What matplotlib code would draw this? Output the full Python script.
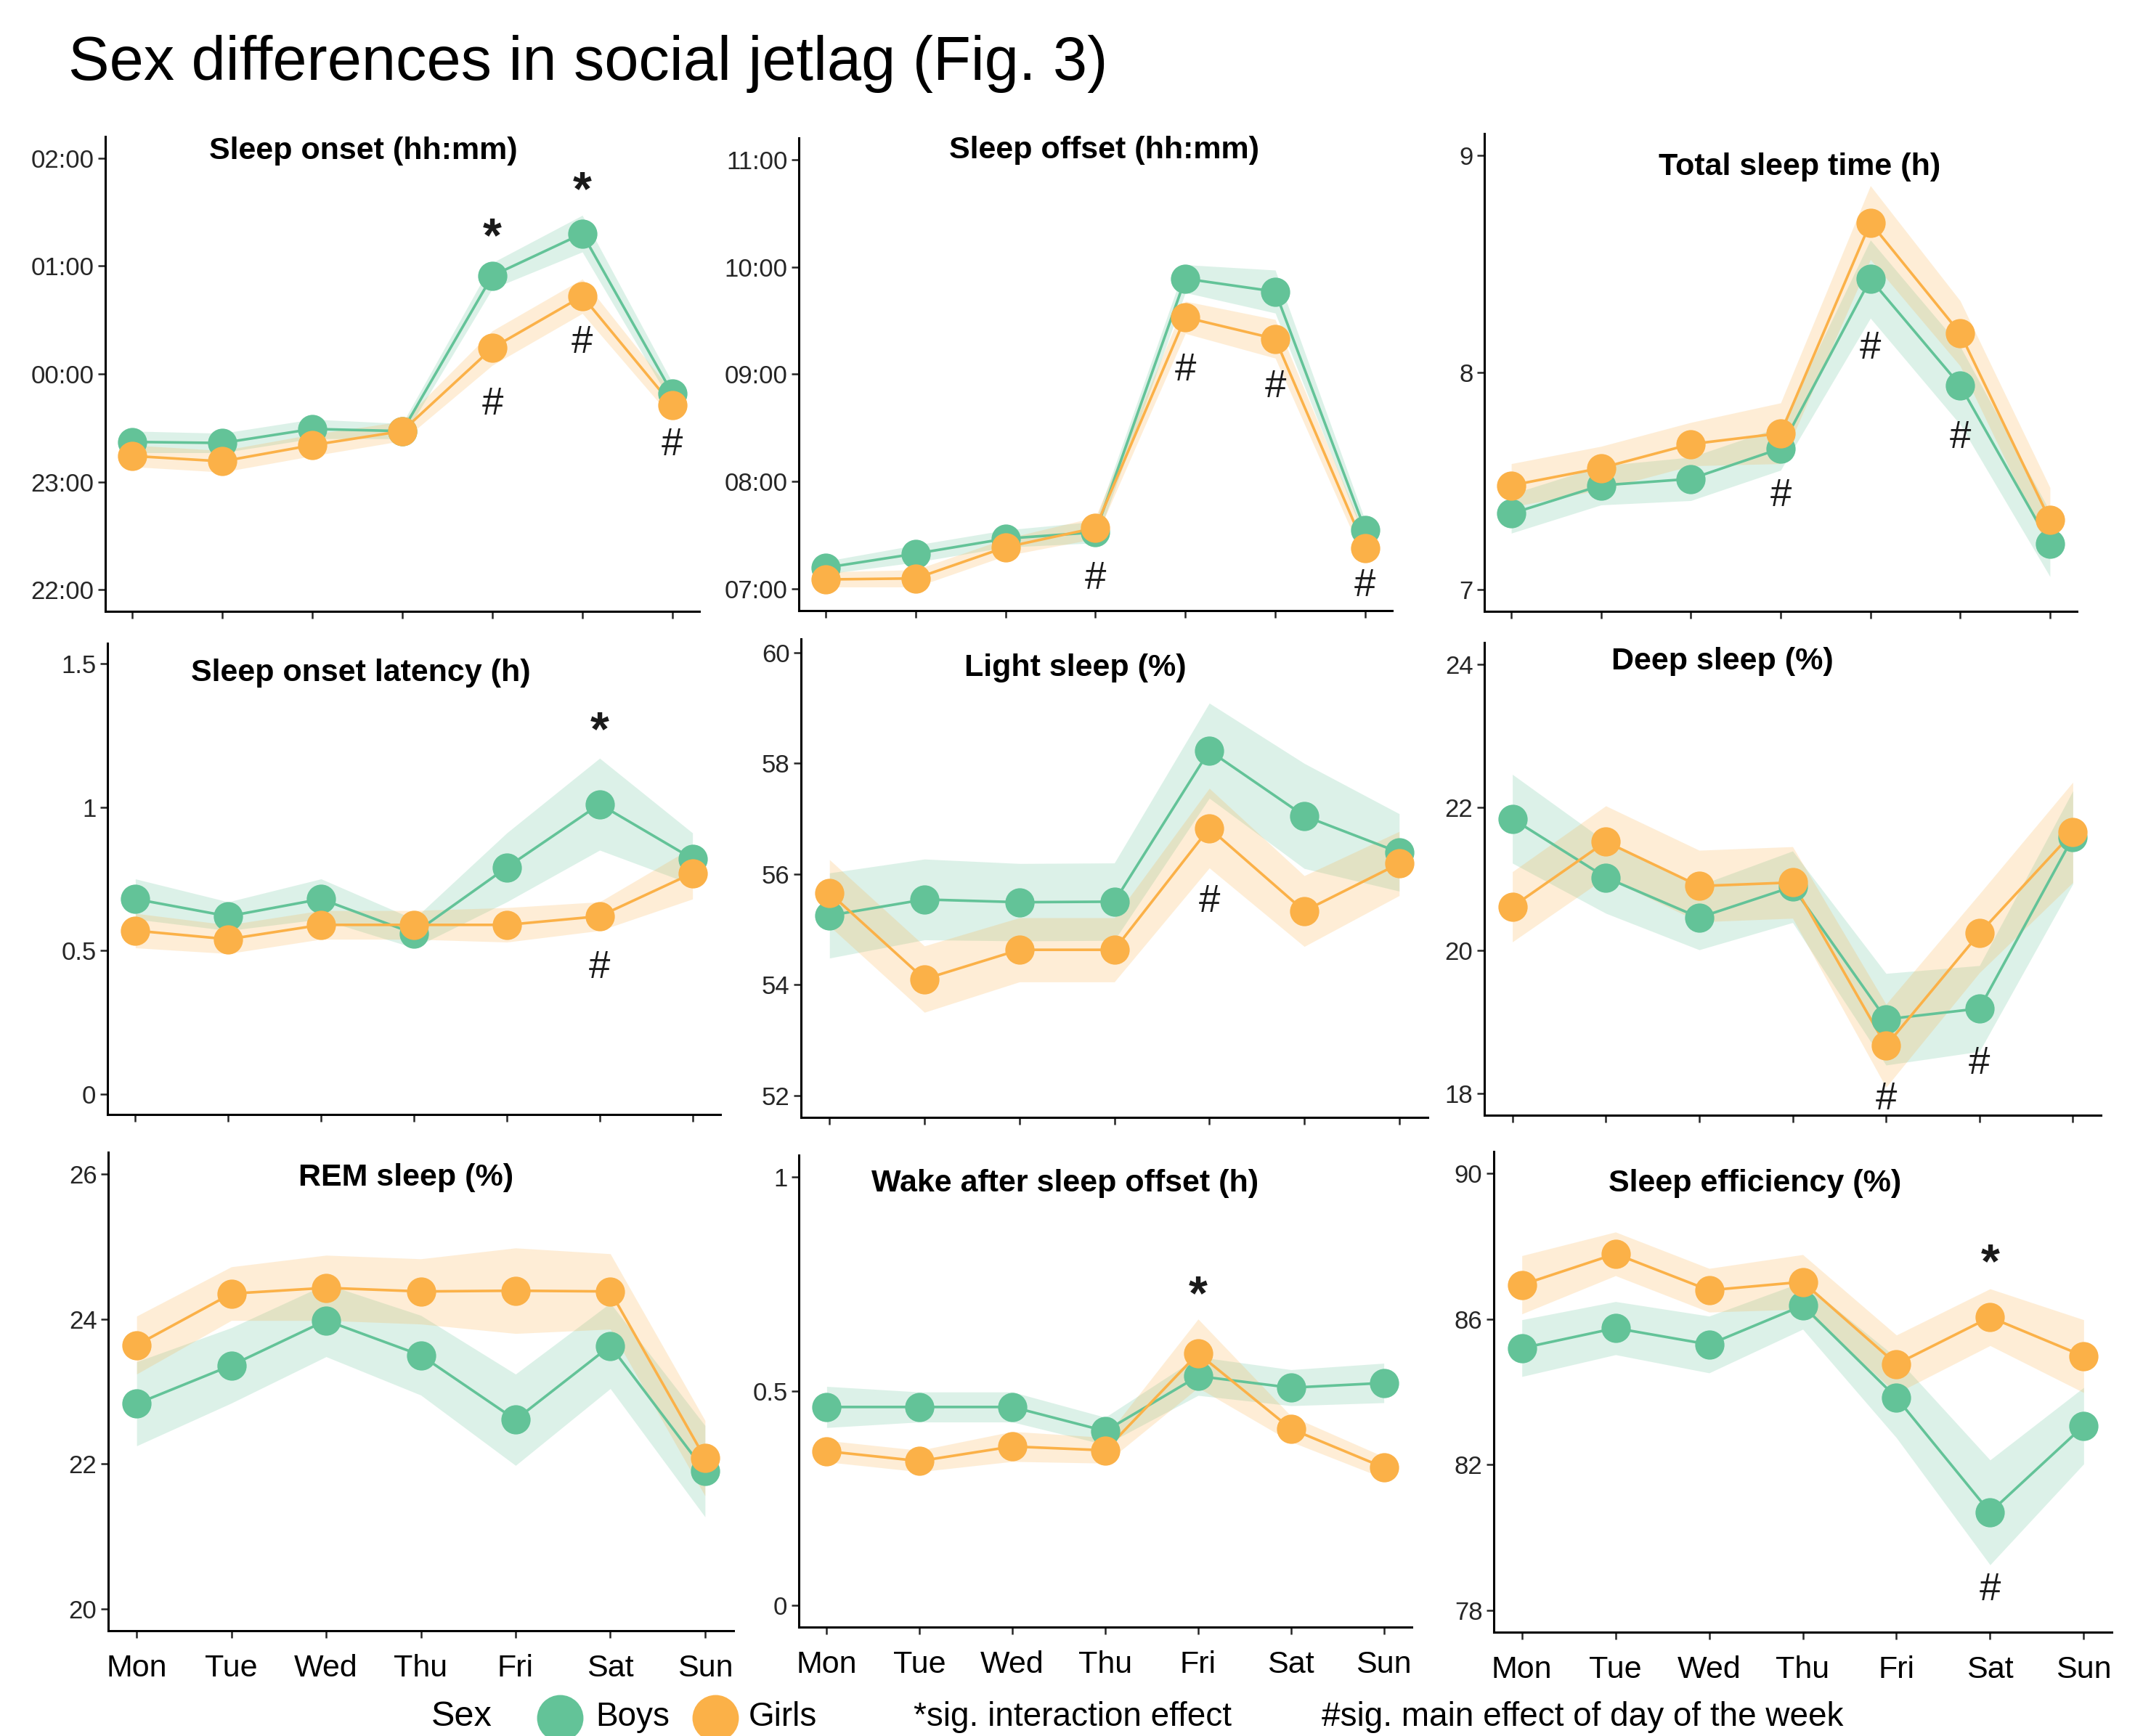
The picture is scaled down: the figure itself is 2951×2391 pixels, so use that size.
import matplotlib
matplotlib.use('Agg')
import matplotlib.pyplot as plt
import matplotlib.ticker as ticker
from matplotlib.lines import Line2D
import numpy as np

plt.rcParams['font.family'] = ['Liberation Sans', 'DejaVu Sans']

W, H = 2951, 2391
GREEN = '#63C398'
ORANGE = '#FBB148'
INK = '#262626'

days = ['Mon', 'Tue', 'Wed', 'Thu', 'Fri', 'Sat', 'Sun']

# ---- data (means and half band widths) ----
# sleep onset, hours relative to midnight
onset_boys = [-0.63, -0.64, -0.51, -0.53, 0.91, 1.30, -0.18]
onset_boys_ci = [0.10, 0.09, 0.09, 0.07, 0.12, 0.17, 0.10]
onset_girls = [-0.76, -0.81, -0.66, -0.53, 0.24, 0.72, -0.29]
onset_girls_ci = [0.10, 0.10, 0.10, 0.09, 0.16, 0.16, 0.12]

# sleep offset, clock hours
offset_boys = [7.20, 7.33, 7.47, 7.53, 9.89, 9.77, 7.55]
offset_boys_ci = [0.06, 0.08, 0.08, 0.10, 0.13, 0.20, 0.09]
offset_girls = [7.09, 7.10, 7.39, 7.57, 9.53, 9.33, 7.38]
offset_girls_ci = [0.07, 0.08, 0.08, 0.10, 0.15, 0.18, 0.12]

tst_boys = [7.35, 7.48, 7.51, 7.65, 8.43, 7.94, 7.21]
tst_boys_ci = [0.09, 0.09, 0.10, 0.10, 0.18, 0.18, 0.15]
tst_girls = [7.48, 7.56, 7.67, 7.72, 8.69, 8.18, 7.32]
tst_girls_ci = [0.10, 0.10, 0.10, 0.14, 0.17, 0.15, 0.15]

sol_boys = [0.68, 0.62, 0.68, 0.56, 0.79, 1.01, 0.82]
sol_boys_ci = [0.07, 0.05, 0.07, 0.05, 0.12, 0.16, 0.09]
sol_girls = [0.57, 0.54, 0.59, 0.59, 0.59, 0.62, 0.77]
sol_girls_ci = [0.06, 0.05, 0.05, 0.05, 0.06, 0.05, 0.09]

light_boys = [55.25, 55.54, 55.49, 55.50, 58.23, 57.05, 56.39]
light_boys_ci = [0.77, 0.73, 0.70, 0.70, 0.86, 0.95, 0.70]
light_girls = [55.66, 54.10, 54.63, 54.63, 56.83, 55.33, 56.19]
light_girls_ci = [0.60, 0.60, 0.58, 0.58, 0.72, 0.64, 0.58]

deep_boys = [21.84, 21.02, 20.46, 20.89, 19.04, 19.19, 21.58]
deep_boys_ci = [0.62, 0.50, 0.45, 0.50, 0.64, 0.60, 0.65]
deep_girls = [20.61, 21.52, 20.90, 20.95, 18.67, 20.24, 21.65]
deep_girls_ci = [0.49, 0.50, 0.50, 0.50, 0.58, 0.55, 0.70]

rem_boys = [22.83, 23.36, 23.98, 23.50, 22.61, 23.63, 21.90]
rem_boys_ci = [0.58, 0.52, 0.50, 0.55, 0.63, 0.59, 0.63]
rem_girls = [23.64, 24.35, 24.43, 24.38, 24.39, 24.38, 22.08]
rem_girls_ci = [0.40, 0.37, 0.45, 0.45, 0.59, 0.52, 0.52]

waso_boys = [0.463, 0.463, 0.463, 0.407, 0.535, 0.508, 0.519]
waso_boys_ci = [0.048, 0.035, 0.035, 0.032, 0.045, 0.042, 0.046]
waso_girls = [0.360, 0.337, 0.371, 0.362, 0.588, 0.412, 0.322]
waso_girls_ci = [0.025, 0.025, 0.035, 0.030, 0.080, 0.030, 0.025]

se_boys = [85.20, 85.75, 85.30, 86.37, 83.84, 80.69, 83.07]
se_boys_ci = [0.78, 0.73, 0.78, 0.65, 1.10, 1.44, 1.05]
se_girls = [86.94, 87.79, 86.79, 87.02, 84.76, 86.05, 84.98]
se_girls_ci = [0.80, 0.60, 0.60, 0.75, 0.80, 0.78, 1.00]

titles = ['Sleep onset (hh:mm)', 'Sleep offset (hh:mm)', 'Total sleep time (h)',
          'Sleep onset latency (h)', 'Light sleep (%)', 'Deep sleep (%)',
          'REM sleep (%)', 'Wake after sleep offset (h)', 'Sleep efficiency (%)']

series = [
    (onset_boys, onset_boys_ci, onset_girls, onset_girls_ci),
    (offset_boys, offset_boys_ci, offset_girls, offset_girls_ci),
    (tst_boys, tst_boys_ci, tst_girls, tst_girls_ci),
    (sol_boys, sol_boys_ci, sol_girls, sol_girls_ci),
    (light_boys, light_boys_ci, light_girls, light_girls_ci),
    (deep_boys, deep_boys_ci, deep_girls, deep_girls_ci),
    (rem_boys, rem_boys_ci, rem_girls, rem_girls_ci),
    (waso_boys, waso_boys_ci, waso_girls, waso_girls_ci),
    (se_boys, se_boys_ci, se_girls, se_girls_ci),
]

yticks = [[-2, -1, 0, 1, 2], [7, 8, 9, 10, 11], [7, 8, 9],
          [0, 0.5, 1, 1.5], [52, 54, 56, 58, 60], [18, 20, 22, 24],
          [20, 22, 24, 26], [0, 0.5, 1], [78, 82, 86, 90]]
ylims = [(-2.2, 2.2), (6.8, 11.2), (6.9, 9.1),
         (-0.07, 1.57), (51.6, 60.25), (17.7, 24.3),
         (19.7, 26.3), (-0.05, 1.05), (77.4, 90.6)]
is_clock = [True, True, False, False, False, False, False, False, False]

# significance marks: (symbol, day index, y)
marks = [
    [('*', 4, 1.25), ('*', 5, 1.68), ('#', 4, -0.28), ('#', 5, 0.29), ('#', 6, -0.66)],
    [('#', 3, 7.10), ('#', 4, 9.04), ('#', 5, 8.88), ('#', 6, 7.03)],
    [('#', 3, 7.43), ('#', 4, 8.11), ('#', 5, 7.70)],
    [('*', 5, 1.26), ('#', 5, 0.44)],
    [('#', 4, 55.50)],
    [('#', 4, 17.92), ('#', 5, 18.42)],
    [],
    [('*', 4, 0.72)],
    [('*', 5, 87.49), ('#', 5, 78.55)],
]

# ---- layout in pixels: (left, bottom, right, top) ----
rects = [(145, 842, 963, 188), (1100, 841, 1917, 190), (2044, 842, 2860, 184),
         (148, 1535, 992, 886), (1103, 1539, 1966, 880), (2044, 1536, 2893, 885),
         (149, 2246, 1010, 1587), (1100, 2241, 1944, 1591), (2057, 2248, 2908, 1586)]
title_pos = [(500, 208), (1520, 207), (2478, 230),
             (497, 927), (1481, 920), (2372, 911),
             (559, 1622), (1467, 1630), (2417, 1630)]

fig = plt.figure(figsize=(W / 200, H / 200), dpi=200)
fig.text(94 / W, 1 - 88 / H, 'Sex differences in social jetlag (Fig. 3)',
         fontsize=30.5, ha='left', va='center', color='black')

x = np.arange(len(days))
for i in range(9):
    l, b, r, t = rects[i]
    ax = fig.add_axes([l / W, 1 - b / H, (r - l) / W, (b - t) / H])
    boys, boys_ci, girls, girls_ci = [np.array(s) for s in series[i]]

    ax.fill_between(x, boys - boys_ci, boys + boys_ci, color=GREEN, alpha=0.22, lw=0, zorder=1)
    ax.fill_between(x, girls - girls_ci, girls + girls_ci, color=ORANGE, alpha=0.22, lw=0, zorder=1)
    ax.plot(x, boys, '-', color=GREEN, lw=1.3, zorder=2)
    ax.plot(x, girls, '-', color=ORANGE, lw=1.3, zorder=2)
    ax.plot(x, boys, 'o', color=GREEN, ms=14.5, mew=0, zorder=3)
    ax.plot(x, girls, 'o', color=ORANGE, ms=14.5, mew=0, zorder=4)

    for sym, d, yv in marks[i]:
        if sym == '*':
            ax.text(d, yv, sym, ha='center', va='center', fontsize=24, fontweight='bold',
                    color='#1a1a1a', zorder=5)
        else:
            ax.text(d, yv, sym, ha='center', va='center', fontsize=19,
                    color='#1a1a1a', zorder=5)

    ax.set_xlim(-0.3, 6.3)
    ax.set_ylim(*ylims[i])
    ax.set_yticks(yticks[i])
    if is_clock[i]:
        ax.yaxis.set_major_formatter(ticker.FuncFormatter(lambda v, p: '%02d:00' % (int(round(v)) % 24)))
    else:
        ax.yaxis.set_major_formatter(ticker.FormatStrFormatter('%g'))
    ax.set_xticks(x)
    if i >= 6:
        ax.set_xticklabels(days)
    else:
        ax.set_xticklabels([])

    for s in ['top', 'right']:
        ax.spines[s].set_visible(False)
    for s in ['left', 'bottom']:
        ax.spines[s].set_linewidth(1.1)
        ax.spines[s].set_color('black')
    ax.tick_params(axis='both', direction='out', length=3.6, width=0.9, color=INK)
    ax.tick_params(axis='y', labelsize=12.5, labelcolor=INK, pad=2)
    ax.tick_params(axis='x', labelsize=15.5, labelcolor='black', pad=8)

    tx, ty = title_pos[i]
    fig.text(tx / W, 1 - ty / H, titles[i], fontsize=15.5, fontweight='bold',
             ha='center', va='center', color='black')

# ---- legend strip at the bottom ----
base = 1 - 2377 / H
fig.text(594 / W, base, 'Sex', fontsize=17.5, ha='left', va='baseline')
fig.add_artist(Line2D([771 / W], [1 - 2366 / H], marker='o', ms=23, mew=0,
                      color=GREEN, transform=fig.transFigure))
fig.text(820 / W, base, 'Boys', fontsize=16.5, ha='left', va='baseline')
fig.add_artist(Line2D([985 / W], [1 - 2366 / H], marker='o', ms=23, mew=0,
                      color=ORANGE, transform=fig.transFigure))
fig.text(1031 / W, base, 'Girls', fontsize=16.5, ha='left', va='baseline')
fig.text(1258 / W, base, '*sig. interaction effect', fontsize=16.5, ha='left', va='baseline')
fig.text(1820 / W, base, '#sig. main effect of day of the week', fontsize=16.5,
         ha='left', va='baseline')

fig.savefig('out.png', dpi=200)
